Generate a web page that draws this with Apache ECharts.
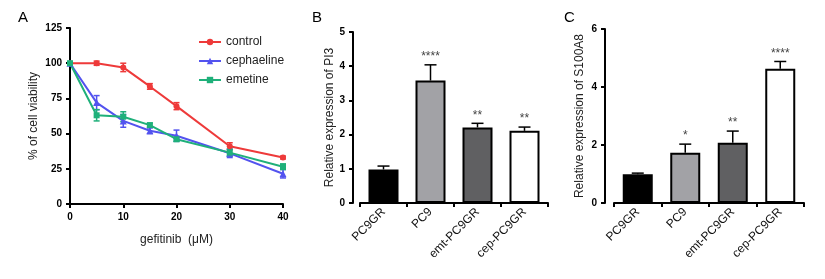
<!DOCTYPE html>
<html>
<head>
<meta charset="utf-8">
<script src="https://cdn.jsdelivr.net/npm/echarts@6/dist/echarts.min.js"></script>
<style>
  html, body { margin: 0; padding: 0; background: #fff; }
  #main { width: 825px; height: 279px; }
</style>
</head>
<body>
<div id="main"></div>
<script>
const chart = echarts.init(document.getElementById('main'))

// panel A: viability vs gefitinib dose
const doses = [0, 5, 10, 15, 20, 30, 40]
const controlMean = [100, 100, 97, 83.5, 69.5, 41, 33]
const controlErr = [0, 1.5, 3, 2, 2.5, 2.5, 1]
const cephMean = [100, 72, 59, 52, 48.5, 36, 21.5]
const cephErr = [0, 5, 4.5, 2, 4, 3, 3]
const emetMean = [100, 63, 62, 56, 46, 36.5, 26.5]
const emetErr = [0, 4, 3.5, 1.5, 1.5, 2.5, 2]

// panels B and C
const groups = ['PC9GR', 'PC9', 'emt-PC9GR', 'cep-PC9GR']
const pi3Mean = [0.98, 3.58, 2.21, 2.11]
const pi3Err = [0.1, 0.46, 0.12, 0.11]
const pi3Sig = ['', '****', '**', '**']
const s100Mean = [0.99, 1.73, 2.08, 4.63]
const s100Err = [0.04, 0.3, 0.4, 0.25]
const s100Sig = ['', '*', '**', '****']

const barFill = ['#000000', '#a2a2a6', '#606062', '#ffffff']
const font = 'Liberation Sans, Arial, sans-serif'

// error bar (and optional star text) drawn through the axes
function errorBars(color, capW, upperOnly) {
  return function (params, api) {
    const x = api.value(0), y = api.value(1), e = api.value(2)
    const top = api.coord([x, y + e])
    const bot = api.coord([x, upperOnly ? y : y - e])
    const children = []
    if (e > 0) {
      children.push({ type: 'line', shape: { x1: top[0], y1: top[1], x2: bot[0], y2: bot[1] },
        style: { stroke: color, lineWidth: 1.5 } })
      children.push({ type: 'line', shape: { x1: top[0] - capW / 2, y1: top[1], x2: top[0] + capW / 2, y2: top[1] },
        style: { stroke: color, lineWidth: 1.5 } })
      if (!upperOnly) {
        children.push({ type: 'line', shape: { x1: bot[0] - capW / 2, y1: bot[1], x2: bot[0] + capW / 2, y2: bot[1] },
          style: { stroke: color, lineWidth: 1.5 } })
      }
    }
    const sig = api.value(3)
    if (sig) {
      children.push({ type: 'text', x: top[0], y: top[1] - 2,
        style: { text: sig, fill: '#444', font: '12px ' + font, align: 'center', verticalAlign: 'bottom' } })
    }
    return { type: 'group', children: children }
  }
}

function axisCommon(extra) {
  return Object.assign({
    axisLine: { show: true, lineStyle: { color: '#000', width: 2 } },
    axisTick: { show: true, length: 4, lineStyle: { color: '#000', width: 2 } },
    axisLabel: { color: '#000', fontWeight: 'bold', fontSize: 10, fontFamily: font },
    splitLine: { show: false },
    nameTextStyle: { color: '#222', fontSize: 12, fontFamily: font }
  }, extra)
}

function lineSeries(name, mean, color, symbol) {
  return {
    name: name, type: 'line', xAxisIndex: 0, yAxisIndex: 0,
    data: doses.map((d, i) => [d, mean[i]]),
    symbol: symbol, symbolSize: symbol === 'triangle' ? 7 : 6,
    lineStyle: { color: color, width: 2 },
    itemStyle: { color: color },
    z: 3
  }
}

function errSeries(mean, err, color) {
  return {
    type: 'custom', xAxisIndex: 0, yAxisIndex: 0,
    renderItem: errorBars(color, 6, false),
    data: doses.map((d, i) => [d, mean[i], err[i], '']),
    z: 2, silent: true
  }
}

function barPanel(idx, mean, err, sig) {
  return [
    {
      type: 'bar', xAxisIndex: idx, yAxisIndex: idx,
      data: mean.map((v, i) => ({ value: v, itemStyle: { color: barFill[i] } })),
      barWidth: 30,
      itemStyle: { borderColor: '#000', borderWidth: 2 },
      z: 3
    },
    {
      type: 'custom', xAxisIndex: idx, yAxisIndex: idx,
      renderItem: errorBars('#000', 12, true),
      data: mean.map((v, i) => [i, v, err[i], sig[i]]),
      z: 2, silent: true
    }
  ]
}

const colors = { control: '#ee3a3a', cephaeline: '#5353ef', emetine: '#1fb07a' }
const catLabel = { color: '#111', fontSize: 12, fontFamily: font, rotate: 45, margin: 7 }

const option = {
  animation: false,
  backgroundColor: '#fff',
  title: [
    { text: 'A', left: 13, top: 5, textStyle: { fontSize: 15, fontWeight: 'normal', color: '#000', fontFamily: font } },
    { text: 'B', left: 307, top: 5, textStyle: { fontSize: 15, fontWeight: 'normal', color: '#000', fontFamily: font } },
    { text: 'C', left: 559, top: 5, textStyle: { fontSize: 15, fontWeight: 'normal', color: '#000', fontFamily: font } }
  ],
  legend: {
    orient: 'vertical', left: 193, top: 31, itemGap: 7,
    itemWidth: 22, itemHeight: 8,
    textStyle: { fontSize: 12, color: '#222', fontFamily: font },
    data: ['control', 'cephaeline', 'emetine']
  },
  grid: [
    { left: 70, top: 28, width: 213, height: 176 },
    { left: 360, top: 32, width: 188, height: 171 },
    { left: 614, top: 29, width: 190, height: 174 }
  ],
  xAxis: [
    axisCommon({ type: 'value', gridIndex: 0, min: 0, max: 40, interval: 10,
      name: 'gefitinib  (μM)', nameLocation: 'middle', nameGap: 30 }),
    axisCommon({ type: 'category', gridIndex: 1, data: groups, axisLabel: catLabel }),
    axisCommon({ type: 'category', gridIndex: 2, data: groups, axisLabel: catLabel })
  ],
  yAxis: [
    axisCommon({ type: 'value', gridIndex: 0, min: 0, max: 125, interval: 25,
      name: '% of cell viability', nameLocation: 'middle', nameGap: 30 }),
    axisCommon({ type: 'value', gridIndex: 1, min: 0, max: 5, interval: 1, offset: 7,
      name: 'Relative expression of PI3', nameLocation: 'middle', nameGap: 17 }),
    axisCommon({ type: 'value', gridIndex: 2, min: 0, max: 6, interval: 2, offset: 9,
      name: 'Relative expression of S100A8', nameLocation: 'middle', nameGap: 19 })
  ],
  series: [
    errSeries(controlMean, controlErr, colors.control),
    errSeries(cephMean, cephErr, colors.cephaeline),
    errSeries(emetMean, emetErr, colors.emetine),
    lineSeries('control', controlMean, colors.control, 'circle'),
    lineSeries('cephaeline', cephMean, colors.cephaeline, 'triangle'),
    lineSeries('emetine', emetMean, colors.emetine, 'rect')
  ].concat(barPanel(1, pi3Mean, pi3Err, pi3Sig), barPanel(2, s100Mean, s100Err, s100Sig))
}

chart.setOption(option)
</script>
</body>
</html>
